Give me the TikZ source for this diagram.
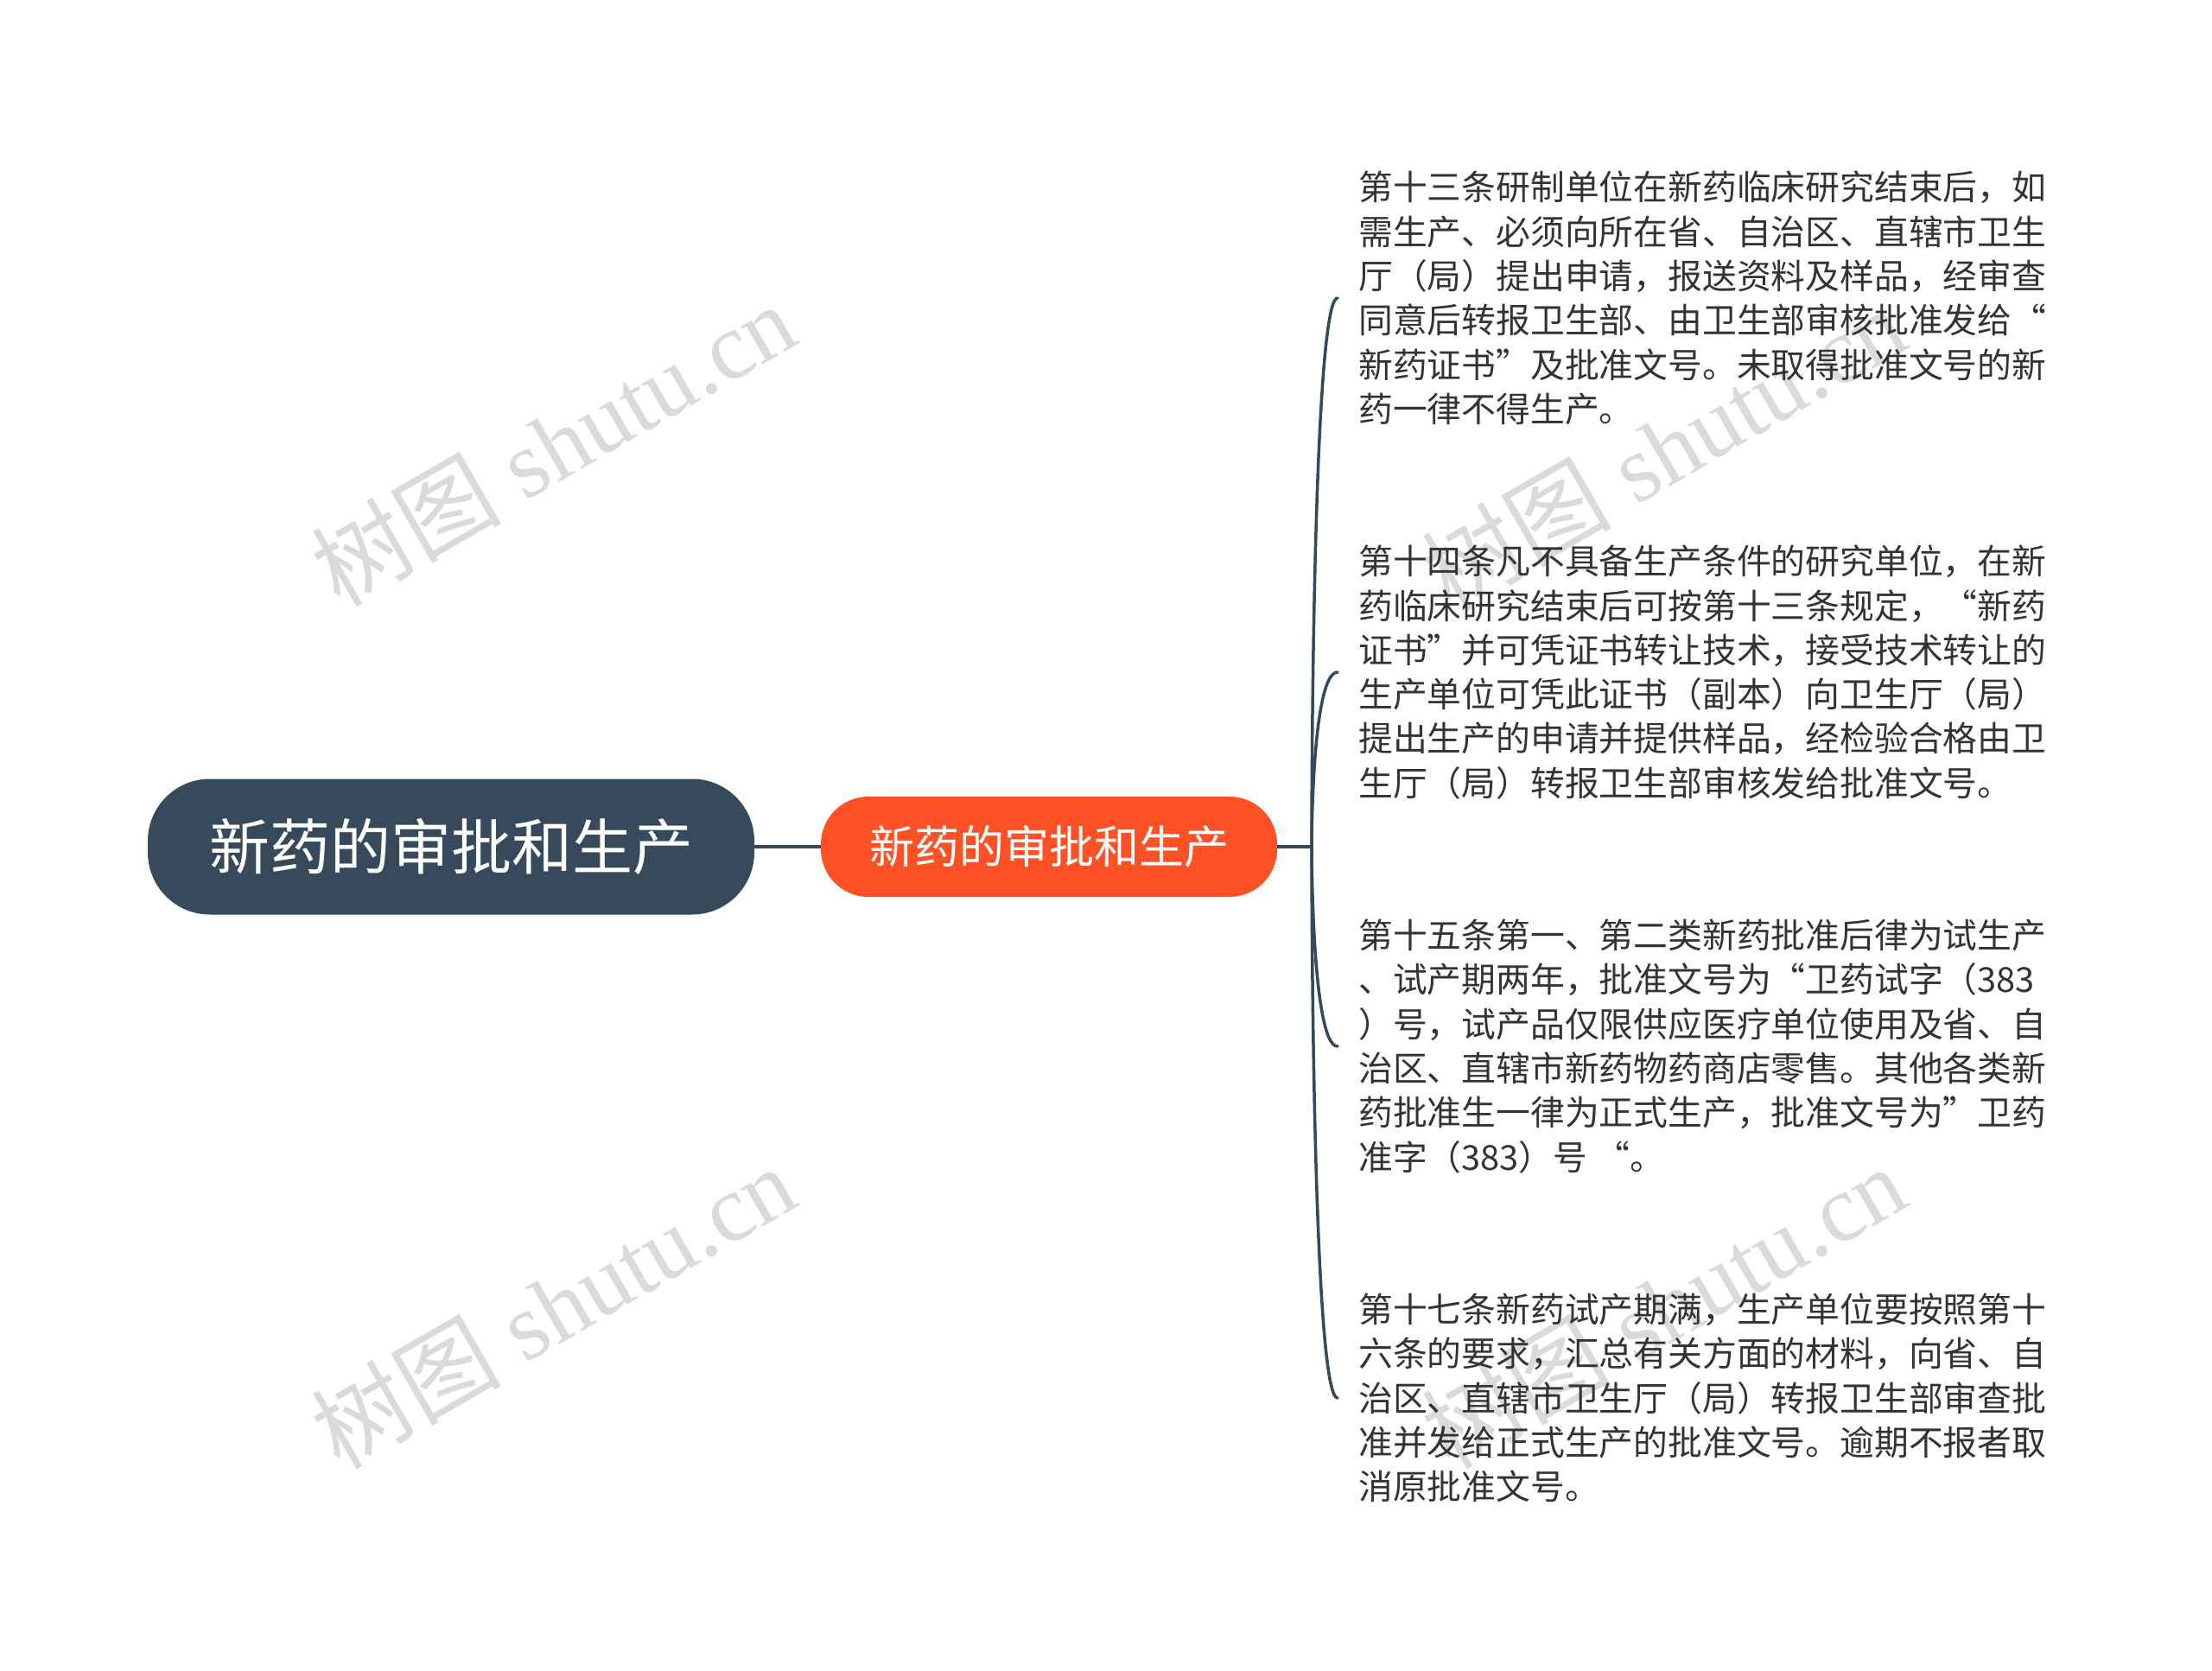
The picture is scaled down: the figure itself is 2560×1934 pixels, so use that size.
\documentclass[tikz,border=0pt]{standalone}
\usepackage{fontspec}
\setmainfont{Liberation Serif}
\newfontfamily\cjk{Noto Sans CJK SC}
\usetikzlibrary{calc}
\definecolor{rootc}{HTML}{374A5B}
\definecolor{orangec}{HTML}{FF5126}
\definecolor{linec}{HTML}{34495C}
\definecolor{txtc}{HTML}{333333}
\definecolor{wmc}{HTML}{DADADA}
\tikzset{
  rootbox/.style={draw=none, fill=rootc, rounded corners=72pt, minimum width=702pt, minimum height=157pt, text=white, font=\cjk\fontsize{70pt}{74pt}\selectfont, inner sep=0pt},
  subbox/.style={draw=none, fill=orangec, rounded corners=55pt, minimum width=528pt, minimum height=116pt, text=white, font=\cjk\fontsize{52pt}{56pt}\selectfont, inner sep=0pt},
  leaftext/.style={anchor=west, align=left, text=txtc, font=\cjk\fontsize{39.8pt}{51.3pt}\selectfont, inner xsep=24pt, inner ysep=0pt},
  conn/.style={draw=linec, line width=4pt},
  branch/.style={draw=linec, line width=3.5pt, line cap=round},
  wmark/.style={text=wmc, rotate=30, font=\fontsize{110pt}{116pt}\selectfont},
}
\begin{document}
\begin{tikzpicture}[x=1pt,y=-1pt]
\useasboundingbox[fill=white] (0,0) rectangle (2560,1934);
% watermarks
\node[wmark] (wm1) at (640,514) {{\cjk 树图} shutu.cn};
\node[wmark] (wm2) at (640,1512) {{\cjk 树图} shutu.cn};
\node[wmark] (wm3) at (1925,519) {{\cjk 树图} shutu.cn};
\node[wmark] (wm4) at (1925,1512) {{\cjk 树图} shutu.cn};
% nodes
\node[rootbox] (root) at (522,980) {新药的审批和生产};
\node[subbox] (sub) at (1214,980) {新药的审批和生产};
\coordinate (J) at (1518,980);
\node[leaftext] (b1) at (1548,345) {第十三条研制单位在新药临床研究结束后，如\\需生产、必须向所在省、自治区、直辖市卫生\\厅（局）提出申请，报送资料及样品，经审查\\同意后转报卫生部、由卫生部审核批准发给“\\新药证书”及批准文号。未取得批准文号的新\\药一律不得生产。};
\node[leaftext] (b2) at (1548,778) {第十四条凡不具备生产条件的研究单位，在新\\药临床研究结束后可按第十三条规定，“新药\\证书”并可凭证书转让技术，接受技术转让的\\生产单位可凭此证书（副本）向卫生厅（局）\\提出生产的申请并提供样品，经检验合格由卫\\生厅（局）转报卫生部审核发给批准文号。};
\node[leaftext] (b3) at (1548,1211) {第十五条第一、第二类新药批准后律为试生产\\、试产期两年，批准文号为“卫药试字（383\\）号，试产品仅限供应医疗单位使用及省、自\\治区、直辖市新药物药商店零售。其他各类新\\药批准生一律为正式生产，批准文号为”卫药\\准字（383）号 “。};
\node[leaftext] (b4) at (1548,1618) {第十七条新药试产期满，生产单位要按照第十\\六条的要求，汇总有关方面的材料，向省、自\\治区、直辖市卫生厅（局）转报卫生部审查批\\准并发给正式生产的批准文号。逾期不报者取\\消原批准文号。};
% connectors
\draw[conn] (root.east) -- (sub.west);
\draw[conn] (sub.east) -- (J);
\foreach \b in {b1,b2,b3,b4}{
  \draw[branch] (J) .. controls (J) and (J |- \b.west) .. (\b.west);
}
\end{tikzpicture}
\end{document}
